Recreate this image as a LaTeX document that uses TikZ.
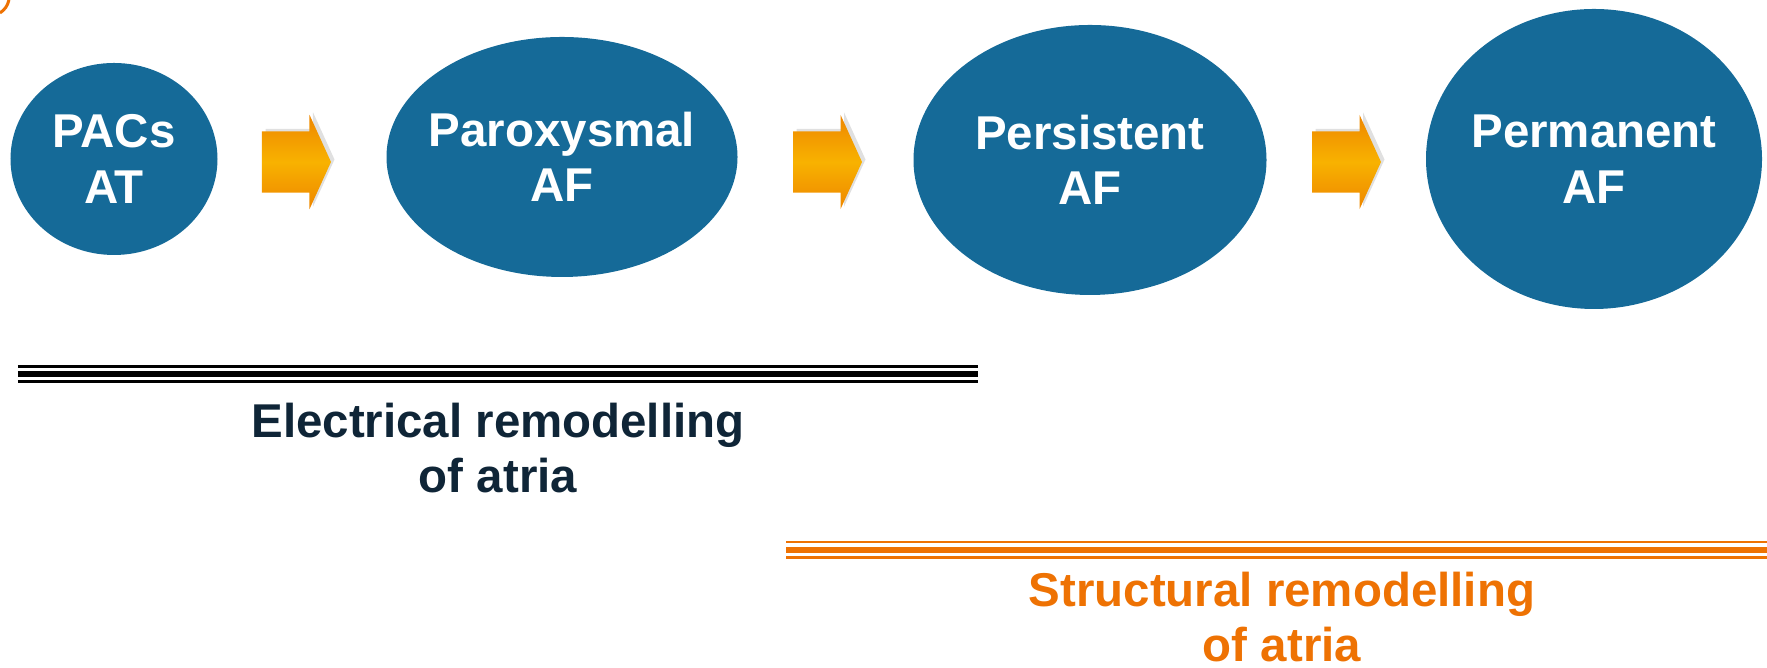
\documentclass[tikz,border=0pt]{standalone}
\usepackage{fontspec}
\setmainfont{Liberation Sans}
\usepackage{tikz}
\usetikzlibrary{shapes.geometric}
\usetikzlibrary{shapes.arrows}
\usetikzlibrary{shadows}

\definecolor{stageblue}{HTML}{156A98}
\definecolor{remorange}{HTML}{EE7203}
\definecolor{remnavy}{HTML}{0F2537}
\definecolor{arrowtop}{HTML}{EE8600}
\definecolor{arrowmid}{HTML}{F8B200}

\tikzset{
 stage/.style={ellipse, fill=stageblue, inner sep=0pt},
 stagetext/.style={text=white, font=\fontsize{13.5}{15.8}\selectfont\bfseries, align=center},
 nextarrow/.style={single arrow, inner xsep=0pt, inner ysep=.30cm, minimum height=.69cm, minimum width=.93cm,
   single arrow head extend=.165cm, single arrow tip angle=131,
   top color=arrowtop, bottom color=arrowtop, middle color=arrowmid,
   drop shadow={shadow xshift=.035cm, shadow yshift=.025cm, fill=black!40, opacity=.3}},
 remtext/.style={font=\fontsize{13.5}{15.8}\selectfont\bfseries, align=center}
}

\begin{document}
\begin{tikzpicture}
 \useasboundingbox (0,0) rectangle (17.67,6.68);
 \draw[remorange, line width=.03cm] (0,6.55) to[bend right=20] (.09,6.68);

 % stages
 \node[stage, minimum width=2.07cm, minimum height=1.92cm] (pacs) at (1.14,5.09) {};
 \node[stagetext] (pacstxt) at (pacs) {PACs\\AT};
 \node[stage, minimum width=3.51cm, minimum height=2.40cm] (parox) at (5.62,5.11) {};
 \node[stagetext] (paroxtxt) at (parox) {Paroxysmal\\AF};
 \node[stage, minimum width=3.53cm, minimum height=2.70cm] (persist) at (10.90,5.08) {};
 \node[stagetext] (persisttxt) at (persist) {Persistent\\AF};
 \node[stage, minimum width=3.36cm, minimum height=3.00cm] (perm) at (15.94,5.09) {};
 \node[stagetext] (permtxt) at (perm) {Permanent\\AF};

 \node[nextarrow] (arr1) at (2.895,5.06) {};
 \node[nextarrow] (arr2) at (8.205,5.06) {};
 \node[nextarrow] (arr3) at (13.395,5.06) {};

 % electrical
 \draw[black, line width=.027cm] (.18,3.017) -- (9.78,3.017);
 \draw[black, line width=.067cm] (.18,2.94) -- (9.78,2.94);
 \draw[black, line width=.027cm] (.18,2.863) -- (9.78,2.863);
 \node[remtext, text=remnavy] (electxt) at (4.98,2.2) {Electrical remodelling\\of atria};

 % structural
 \draw[remorange, line width=.027cm] (7.86,1.26) -- (17.67,1.26);
 \draw[remorange, line width=.06cm] (7.86,1.183) -- (17.67,1.183);
 \draw[remorange, line width=.027cm] (7.86,1.105) -- (17.67,1.105);
 \node[remtext, text=remorange] (structxt) at (12.82,.51) {Structural remodelling\\of atria};
\end{tikzpicture}
\end{document}
